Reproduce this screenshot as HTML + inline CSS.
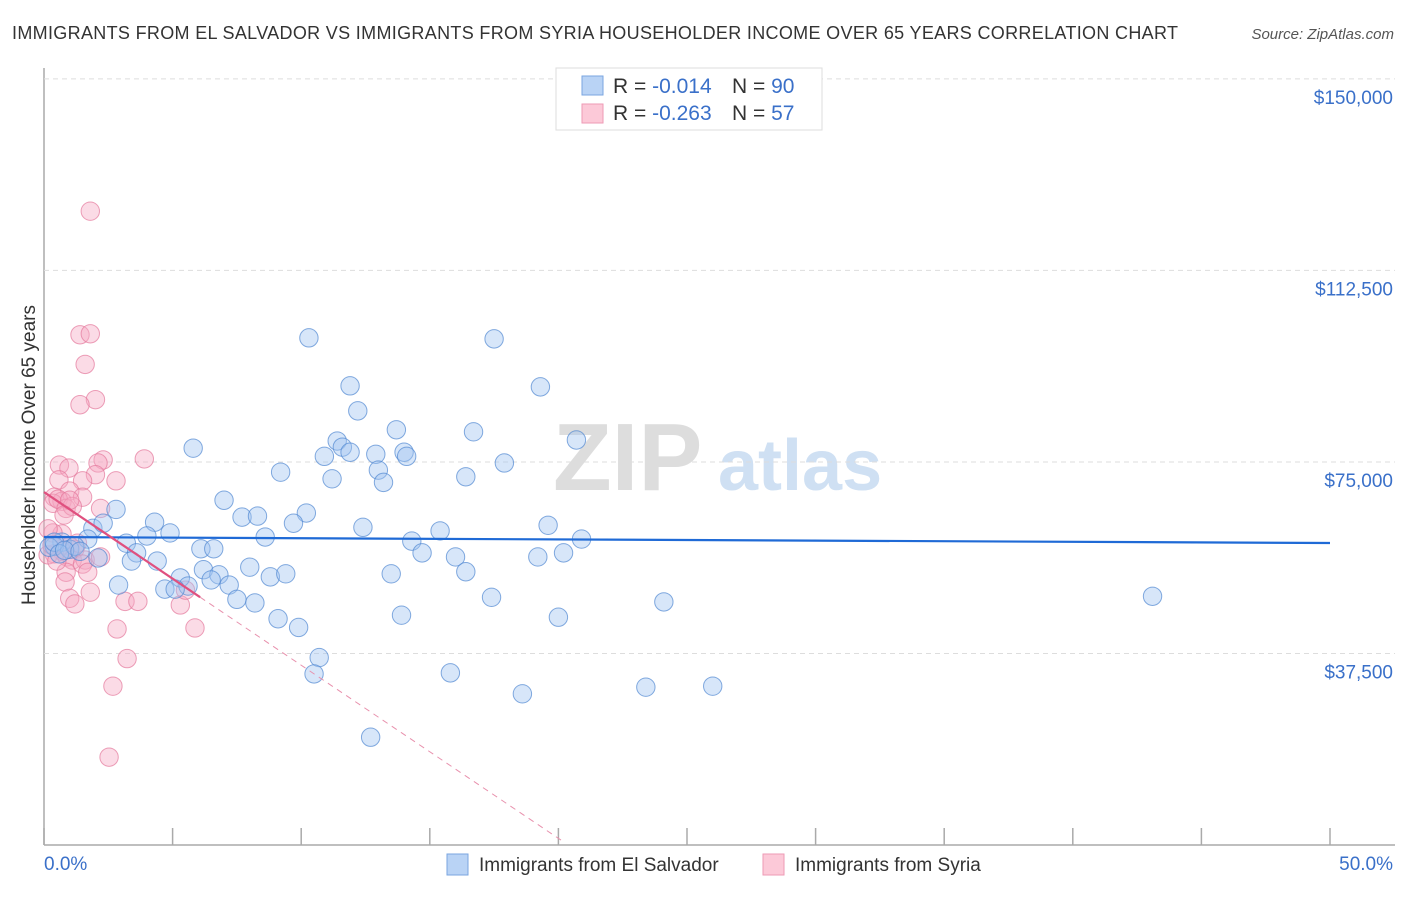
<!DOCTYPE html>
<html><head><meta charset="utf-8"><style>
body{margin:0;background:#fff;font-family:"Liberation Sans",sans-serif}
svg text{font-family:"Liberation Sans",sans-serif}
</style></head><body>
<svg id="c" width="1406" height="892">
<text x="12" y="39" font-size="18" fill="#333" textLength="1166" lengthAdjust="spacing">IMMIGRANTS FROM EL SALVADOR VS IMMIGRANTS FROM SYRIA HOUSEHOLDER INCOME OVER 65 YEARS CORRELATION CHART</text>
<text x="1394" y="39" font-size="15" fill="#555" text-anchor="end" font-style="italic">Source: ZipAtlas.com</text>
<text x="35" y="455" font-size="19" fill="#333" text-anchor="middle" transform="rotate(-90 35 455)">Householder Income Over 65 years</text>
<g><text x="553" y="490" font-size="96" fill="#ddd" font-family="Liberation Serif" font-weight="bold">ZIP</text><text x="718" y="490" font-size="72" fill="#cfe0f3" font-weight="bold">atlas</text></g>
<g id="grid"></g><g id="marks"></g>
<g>
<rect x="556" y="68" width="266" height="62" fill="#fff" stroke="#ddd"/>
<rect x="582" y="76" width="21" height="19" fill="#b9d3f5" stroke="#7aa6e0"/>
<rect x="582" y="104" width="21" height="19" fill="#fcc9d8" stroke="#ee9ab5"/>
<text x="613" y="93" font-size="21" fill="#333">R = <tspan fill="#3a70c9">-0.014</tspan><tspan x="732">N = </tspan><tspan fill="#3a70c9">90</tspan></text>
<text x="613" y="120" font-size="21" fill="#333">R = <tspan fill="#3a70c9">-0.263</tspan><tspan x="732">N = </tspan><tspan fill="#3a70c9"> 57</tspan></text>
</g>
<g>
<rect x="447" y="854" width="21" height="21" fill="#b9d3f5" stroke="#7aa6e0"/>
<text x="479" y="871" font-size="19" fill="#333">Immigrants from El Salvador</text>
<rect x="763" y="854" width="21" height="21" fill="#fcc9d8" stroke="#ee9ab5"/>
<text x="795" y="871" font-size="19" fill="#333">Immigrants from Syria</text>
</g>
</svg>
<script>
const yTicks=[37500,75000,112500,150000];
const yTickLabels=["$37,500","$75,000","$112,500","$150,000"];
const xTickLabels=["0.0%","50.0%"];
const blueX=[10.3,17.5,11.9,19.3,12.2,13.7,16.7,11.4,20.7,11.6,5.8,11.9,12.9,14.0,14.1,10.9,17.9,13.0,9.2,11.2,16.4,13.2,7.0,2.8,10.2,7.7,8.3,4.3,9.7,19.6,12.4,15.4,1.9,4.9,2.3,8.6,14.3,20.9,3.2,4.0,6.1,6.6,0.7,1.7,3.6,14.7,16.0,19.2,20.2,0.4,1.0,2.1,3.4,4.4,8.0,6.2,6.8,8.8,9.4,13.5,16.4,5.3,6.5,7.2,5.6,2.9,4.7,5.1,7.5,8.2,17.4,24.1,43.1,13.9,20.0,9.1,9.9,10.7,10.5,15.8,18.6,23.4,26.0,12.7,0.2,0.4,0.6,1.2,0.8,1.4];
const blueY=[99300,99100,89900,89700,85000,81300,80900,79100,79300,77900,77700,76900,76500,76900,76100,76100,74800,73400,73000,71700,72100,71000,67500,65700,65000,64200,64400,63200,63000,62600,62200,61500,62000,61100,63000,60300,59500,59900,59100,60500,58000,58000,59300,59900,57200,57200,56400,56400,57200,58500,57900,56200,55600,55600,54400,53900,52900,52500,53100,53100,53500,52300,51900,50900,50700,50900,50100,50100,48100,47400,48500,47600,48700,45000,44600,44300,42600,36700,33500,33700,29600,30900,31100,21100,58300,59300,57000,58500,57700,57500];
const pinkX=[1.8,1.4,1.8,1.6,2.0,1.4,3.9,2.3,2.1,0.6,0.97,2.0,1.5,2.8,0.58,1.0,1.5,0.4,0.7,0.35,0.55,0.86,1.1,2.2,0.7,0.35,0.16,1.3,1.0,1.2,0.7,0.4,0.9,1.1,1.6,1.5,2.2,0.86,1.7,0.82,1.0,1.2,1.8,3.15,3.65,5.3,5.5,2.84,5.87,3.23,2.68,2.53,0.16,0.31,0.5,1.0,0.78];
const pinkY=[124100,99900,100100,94100,87200,86200,75600,75400,74800,74400,73800,72500,71300,71300,71500,69300,68100,68100,67300,66900,67700,65900,66300,65900,60900,61100,61900,59100,58500,57900,57500,57000,56400,55800,55800,55000,56400,53400,53400,51500,48300,47200,49500,47700,47700,47000,49900,42300,42500,36500,31100,17200,56800,58700,55600,67500,64600];
const blueTrend=[60300,59130];
const pinkTrend=[69100,-3390];
const X0=44,X1=1330,Y0=845;
const xs=v=>X0+(v/50)*(X1-X0);
const ys=v=>Y0-v/195.8;
const NS="http://www.w3.org/2000/svg";
function mk(tag,attrs,parent){const e=document.createElementNS(NS,tag);for(const k in attrs)e.setAttribute(k,attrs[k]);parent.appendChild(e);return e;}
const g=document.getElementById('grid'),m=document.getElementById('marks');
let a=mk('line',{x1:44,y1:68,x2:44,y2:845,stroke:'#aaa','stroke-width':1.5},g);


a=mk('line',{x1:44,y1:845,x2:1395,y2:845,stroke:'#aaa','stroke-width':1.5},g);


for(let i=0;i<=10;i++){const t=mk('line',{x1:xs(i*5),y1:828,x2:xs(i*5),y2:845,stroke:'#aaa','stroke-width':1.5},g);

}
yTicks.forEach((v,i)=>{const l=mk('line',{x1:44,y1:ys(v),x2:1395,y2:ys(v),stroke:'#ddd','stroke-dasharray':'5,4'},g);


const t=mk('text',{x:1393,y:ys(v)+25,'font-size':19,fill:'#3a70c9','text-anchor':'end'},g);t.textContent=yTickLabels[i];

});
[0,50].forEach((v,i)=>{const t=mk('text',{x:i?1393:44,y:870,'font-size':19,fill:'#3a70c9','text-anchor':i?'end':'start'},g);t.textContent=xTickLabels[i];

});
pinkX.forEach((x,i)=>{const c=mk('circle',{cx:xs(x),cy:ys(pinkY[i]),r:9.2,fill:'rgba(245,170,195,0.42)',stroke:'rgba(228,120,155,0.7)','stroke-width':1},m);

});
blueX.forEach((x,i)=>{const c=mk('circle',{cx:xs(x),cy:ys(blueY[i]),r:9.2,fill:'rgba(160,195,240,0.42)',stroke:'rgba(80,135,210,0.7)','stroke-width':1},m);

});
let t=mk('line',{x1:xs(0),y1:ys(blueTrend[0]),x2:xs(50),y2:ys(blueTrend[1]),stroke:'#1f6ad6','stroke-width':2.2},m);


const pv=x=>pinkTrend[0]+pinkTrend[1]*x;
t=mk('line',{x1:xs(0),y1:ys(pv(0)),x2:xs(6.07),y2:ys(pv(6.07)),stroke:'#e0507f','stroke-width':2.2},m);


t=mk('line',{x1:xs(6.07),y1:ys(pv(6.07)),x2:xs(20.2),y2:ys(pv(20.2)),stroke:'#e891ad','stroke-width':1,'stroke-dasharray':'6,5'},m);


</script>
</body></html>
